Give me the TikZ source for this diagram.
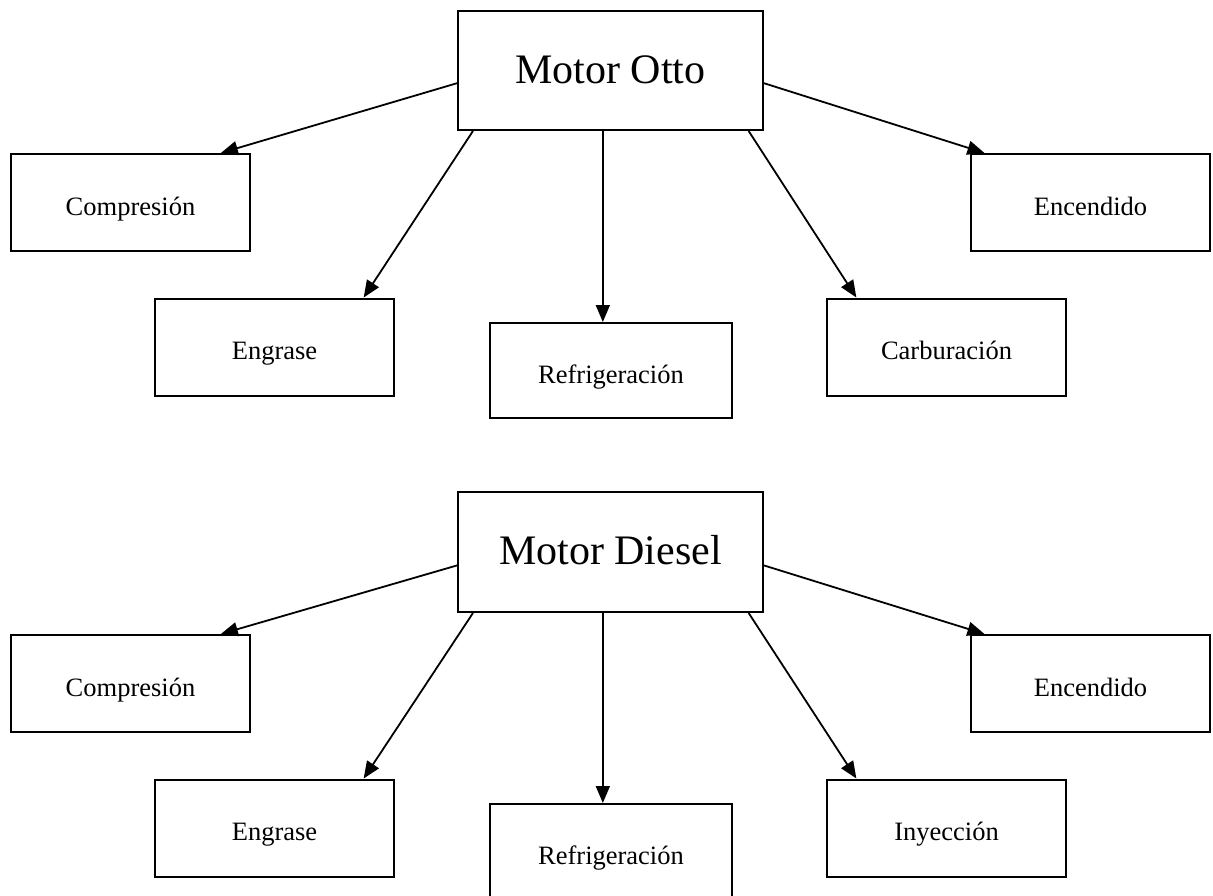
\documentclass[tikz,border=0pt]{standalone}
\usepackage{fontspec}
\setmainfont{Liberation Serif}
\usetikzlibrary{arrows.meta,calc}
\tikzset{
  boxbase/.style={draw, line width=2pt, rectangle, inner sep=0pt, text height=25pt, text depth=0pt},
  mainbox/.style={boxbase, minimum width=305pt, minimum height=119pt, font=\fontsize{42}{46}\selectfont},
  subbox/.style={boxbase, minimum width=239pt, minimum height=97pt, font=\fontsize{26.5}{30}\selectfont},
  refbox/.style={boxbase, minimum width=242pt, minimum height=95pt, font=\fontsize{26.5}{30}\selectfont},
  conn/.style={line width=1.8pt, -{Triangle[length=17pt,width=14pt]}}
}
\begin{document}
\begin{tikzpicture}[x=1pt,y=-1pt]
\useasboundingbox (0,0) rectangle (1213,895);
\clip (0,0) rectangle (1213,895);
% ---------- Motor Otto ----------
\node[mainbox] (otto) at (610.5,70.5) {Motor Otto};
\node[subbox] (comp1) at (130.5,202.5) {Compresión};
\node[subbox] (enc1) at (1090.5,202.5) {Encendido};
\node[subbox] (eng1) at (274.5,347) {Engrase};
\node[refbox] (ref1) at (611,370.5) {Refrigeración};
\node[subbox] (carb1) at (946.5,347) {Carburación};
\coordinate (v1) at ($(otto.south west)!0.475!(otto.south east)$);
\draw[conn] ($(otto.north west)!0.605!(otto.south west)$) -- ($(comp1.north west)!0.875!(comp1.north east)$);
\draw[conn] ($(otto.north east)!0.605!(otto.south east)$) -- ($(enc1.north west)!0.06!(enc1.north east)$);
\draw[conn] ($(otto.south west)!0.052!(otto.south east)$) -- ($(eng1.north west)!0.87!(eng1.north east)$);
\draw[conn] ($(otto.south west)!0.95!(otto.south east)$) -- ($(carb1.north west)!0.126!(carb1.north east)$);
\draw[conn] (v1) -- (v1 |- ref1.north);
% ---------- Motor Diesel ----------
\node[mainbox, minimum height=120pt] (diesel) at (610.5,552) {Motor Diesel};
\node[subbox] (comp2) at (130.5,683.5) {Compresión};
\node[subbox] (enc2) at (1090.5,683.5) {Encendido};
\node[subbox] (eng2) at (274.5,828) {Engrase};
\node[refbox] (ref2) at (611,851.5) {Refrigeración};
\node[subbox] (iny2) at (946.5,828) {Inyección};
\coordinate (v2) at ($(diesel.south west)!0.475!(diesel.south east)$);
\draw[conn] ($(diesel.north west)!0.61!(diesel.south west)$) -- ($(comp2.north west)!0.875!(comp2.north east)$);
\draw[conn] ($(diesel.north east)!0.61!(diesel.south east)$) -- ($(enc2.north west)!0.06!(enc2.north east)$);
\draw[conn] ($(diesel.south west)!0.052!(diesel.south east)$) -- ($(eng2.north west)!0.87!(eng2.north east)$);
\draw[conn] ($(diesel.south west)!0.95!(diesel.south east)$) -- ($(iny2.north west)!0.126!(iny2.north east)$);
\draw[conn] (v2) -- (v2 |- ref2.north);
\end{tikzpicture}
\end{document}
